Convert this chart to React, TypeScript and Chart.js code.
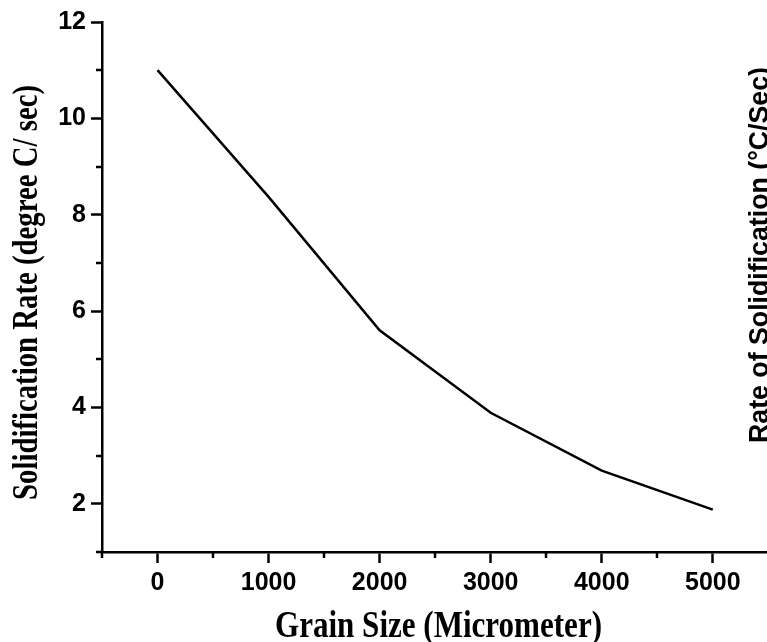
import React, { useEffect, useRef } from "react";
import { Chart, registerables } from "chart.js";

Chart.register(...registerables);

// ---- data ----
const grainSize = [0, 1000, 2000, 3000, 4000, 5000];
const solidRate = [11.0, 8.37, 5.6, 3.89, 2.69, 1.88];
const xMajorTicks = [0, 1000, 2000, 3000, 4000, 5000];
const xMinorTicks = [-500, 500, 1500, 2500, 3500, 4500, 5500];
const yMajorTicks = [2, 4, 6, 8, 10, 12];
const yMinorTicks = [1, 3, 5, 7, 9, 11];
const xTitle = "Grain Size (Micrometer)";
const yTitle = "Solidification Rate (degree C/ sec)";
const rightTitle = "Rate of Solidification (\u00B0C/Sec)";

const SANS = "'Liberation Sans', Arial, sans-serif";
const SERIF = "'Liberation Serif', 'Times New Roman', serif";

const decorPlugin = {
  id: "decor",
  afterDraw(chart: any) {
    const ctx = chart.ctx as CanvasRenderingContext2D;
    const xs = chart.scales.x;
    const ys = chart.scales.y;
    const area = chart.chartArea;
    ctx.save();
    ctx.strokeStyle = "#000";
    ctx.lineWidth = 2.5;
    // minor ticks
    ctx.beginPath();
    for (const v of xMinorTicks) {
      const px = Math.round(xs.getPixelForValue(v));
      if (px < area.left - 1 || px > chart.width) continue;
      ctx.moveTo(px, area.bottom);
      ctx.lineTo(px, area.bottom + 6);
    }
    for (const v of yMinorTicks) {
      const py = Math.round(ys.getPixelForValue(v));
      ctx.moveTo(area.left, py);
      ctx.lineTo(area.left - 6, py);
    }
    ctx.stroke();

    ctx.fillStyle = "#000";
    // x title (condensed Times bold)
    ctx.font = `bold 38px ${SERIF}`;
    ctx.textAlign = "center";
    ctx.textBaseline = "alphabetic";
    let w = ctx.measureText(xTitle).width;
    ctx.save();
    ctx.translate(438.5, 636.5);
    ctx.scale(327 / w, 1);
    ctx.fillText(xTitle, 0, 0);
    ctx.restore();

    // left y title
    ctx.font = `bold 36px ${SERIF}`;
    w = ctx.measureText(yTitle).width;
    ctx.save();
    ctx.translate(37, 292.5);
    ctx.rotate(-Math.PI / 2);
    ctx.scale(415 / w, 1);
    ctx.fillText(yTitle, 0, 0);
    ctx.restore();

    // right title (clipped by canvas edge)
    ctx.font = `bold 27px ${SANS}`;
    w = ctx.measureText(rightTitle).width;
    ctx.save();
    ctx.translate(768, 255);
    ctx.rotate(-Math.PI / 2);
    ctx.scale(376 / w, 1);
    ctx.fillText(rightTitle, 0, 0);
    ctx.restore();

    ctx.restore();
  },
};

export default function App() {
  const ref = useRef<HTMLCanvasElement | null>(null);

  useEffect(() => {
    if (!ref.current) return;
    const chart = new Chart(ref.current, {
      type: "line",
      data: {
        datasets: [
          {
            data: grainSize.map((x, i) => ({ x, y: solidRate[i] })),
            borderColor: "#000",
            borderWidth: 2.5,
            pointRadius: 0,
            fill: false,
            tension: 0,
          },
        ],
      },
      options: {
        animation: false,
        responsive: true,
        maintainAspectRatio: false,
        layout: { padding: { left: 0, top: 22, right: 0, bottom: 0 } },
        plugins: {
          legend: { display: false },
          tooltip: { enabled: false },
        },
        scales: {
          x: {
            type: "linear",
            min: -500,
            max: 5488,
            afterBuildTicks: (s: any) => {
              s.ticks = xMajorTicks.map((v) => ({ value: v }));
            },
            afterFit: (s: any) => {
              s.height = 90;
            },
            grid: {
              drawOnChartArea: false,
              drawTicks: true,
              tickLength: 11,
              tickWidth: 2.5,
              tickColor: "#000",
            },
            border: { display: true, color: "#000", width: 2.5 },
            ticks: {
              color: "#000",
              padding: 5,
              maxRotation: 0,
              autoSkip: false,
              font: { family: SANS, size: 25, weight: "bold" },
              callback: (v: any) => String(v),
            },
          },
          y: {
            type: "linear",
            min: 1,
            max: 12,
            afterBuildTicks: (s: any) => {
              s.ticks = yMajorTicks.map((v) => ({ value: v }));
            },
            afterFit: (s: any) => {
              s.width = 102;
            },
            grid: {
              drawOnChartArea: false,
              drawTicks: true,
              tickLength: 11,
              tickWidth: 2.5,
              tickColor: "#000",
            },
            border: { display: true, color: "#000", width: 2.5 },
            ticks: {
              color: "#000",
              padding: 5,
              autoSkip: false,
              font: { family: SANS, size: 25, weight: "bold" },
              callback: (v: any) => String(v),
            },
          },
        },
      },
      plugins: [decorPlugin],
    });
    return () => chart.destroy();
  }, []);

  return (
    <div
      style={{
        position: "absolute",
        left: 0,
        top: 0,
        width: 767,
        height: 642,
        background: "#fff",
      }}
    >
      <canvas ref={ref} />
    </div>
  );
}
